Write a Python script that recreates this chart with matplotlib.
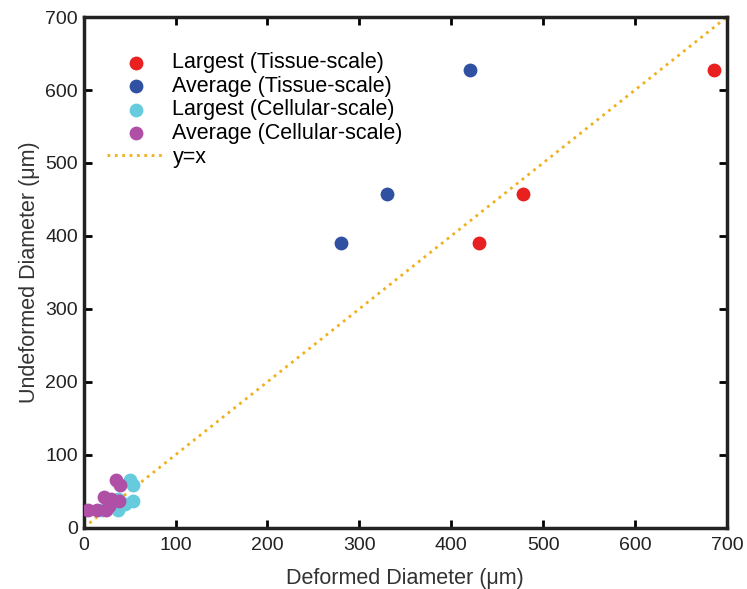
import matplotlib
matplotlib.use('Agg')
import matplotlib.pyplot as plt

plt.rcParams['font.family'] = ['Liberation Sans', 'DejaVu Sans']

# Tissue-scale
tissue_largest_x = [430, 478, 686]
tissue_largest_y = [390, 457, 627]
tissue_avg_x = [280, 330, 420]
tissue_avg_y = [390, 457, 627]

# Cellular-scale
cell_largest_x = [50, 54, 54, 37, 37, 45, 28, 20]
cell_largest_y = [66, 58, 36, 40, 24, 32, 34, 25]
cell_avg_x = [35, 40, 22, 30, 38, 5, 14, 24, 28]
cell_avg_y = [65, 58, 42, 40, 37, 24, 24, 25, 30]

fig = plt.figure(figsize=(7.47, 5.89), dpi=100)
ax = fig.add_axes([0.112, 0.104, 0.861, 0.867])

ax.scatter(tissue_largest_x, tissue_largest_y, s=80, color='#E8201F', label='Largest (Tissue-scale)', zorder=3)
ax.scatter(tissue_avg_x, tissue_avg_y, s=80, color='#3050A2', label='Average (Tissue-scale)', zorder=3)
ax.scatter(cell_largest_x, cell_largest_y, s=80, color='#66CCDD', label='Largest (Cellular-scale)', zorder=3)
ax.scatter(cell_avg_x, cell_avg_y, s=80, color='#B04FA6', label='Average (Cellular-scale)', zorder=4)
ax.plot([0, 700], [0, 700], linestyle=':', color='#F0B020', linewidth=2, label='y=x', zorder=2)

ax.set_xlim(0, 700)
ax.set_ylim(0, 700)
ax.set_xticks(range(0, 701, 100))
ax.set_yticks(range(0, 701, 100))
ax.tick_params(direction='in', top=True, right=True, labelsize=14, length=6, width=2,
               labelcolor='#222222')
ax.tick_params(axis='x', pad=7)
ax.tick_params(axis='y', pad=4)
for sp in ax.spines.values():
    sp.set_linewidth(2.5)
    sp.set_color('#222222')
ax.set_xlabel('Deformed Diameter (μm)', fontsize=15.5, color='#333333', labelpad=10)
ax.set_ylabel('Undeformed Diameter (μm)', fontsize=15.5, color='#333333', labelpad=4)

leg = ax.legend(loc='upper left', frameon=False, fontsize=15.5, handlelength=2.7,
                handletextpad=0.35, labelspacing=0.12, borderaxespad=0, borderpad=0,
                bbox_to_anchor=(0.036, 0.931))

fig.savefig('out.png', dpi=100)
